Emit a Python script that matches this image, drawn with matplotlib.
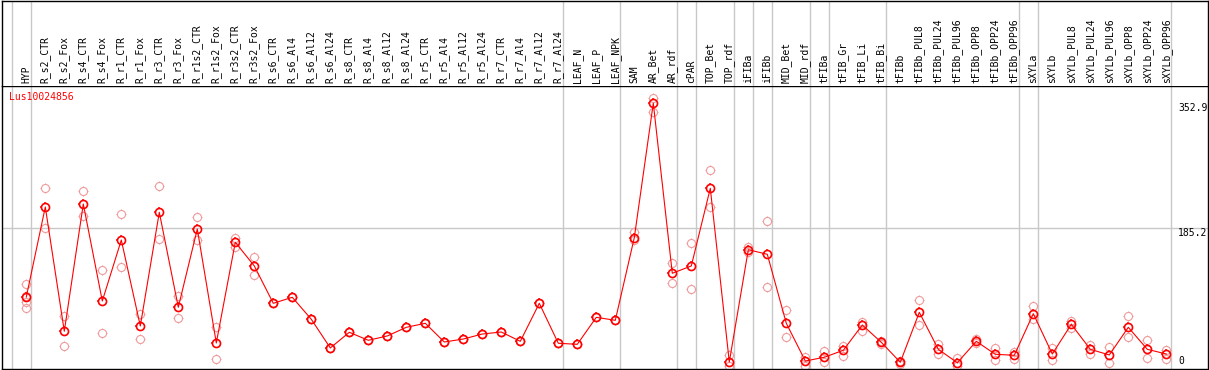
import matplotlib
matplotlib.use('Agg')
import matplotlib.pyplot as plt
from matplotlib.path import Path
import numpy as np

gene_id = "Lus10024856"

categories = [
    "HYP", "R_s2_CTR", "R_s2_Fox", "R_s4_CTR", "R_s4_Fox", "R_r1_CTR", "R_r1_Fox",
    "R_r3_CTR", "R_r3_Fox", "R_r1s2_CTR", "R_r1s2_Fox", "R_r3s2_CTR", "R_r3s2_Fox",
    "R_s6_CTR", "R_s6_Al4", "R_s6_Al12", "R_s6_Al24", "R_s8_CTR", "R_s8_Al4",
    "R_s8_Al12", "R_s8_Al24", "R_r5_CTR", "R_r5_Al4", "R_r5_Al12", "R_r5_Al24",
    "R_r7_CTR", "R_r7_Al4", "R_r7_Al12", "R_r7_Al24", "LEAF_N", "LEAF_P", "LEAF_NPK",
    "SAM", "AR_Bet", "AR_rdf", "cPAR", "TOP_Bet", "TOP_rdf", "iFIBa", "iFIBb",
    "MID_Bet", "MID_rdf", "tFIBa", "tFIB_Gr", "tFIB_Li", "tFIB_Bi", "tFIBb",
    "tFIBb_PUL8", "tFIBb_PUL24", "tFIBb_PUL96", "tFIBb_OPP8", "tFIBb_OPP24",
    "tFIBb_OPP96", "sXYLa", "sXYLb", "sXYLb_PUL8", "sXYLb_PUL24", "sXYLb_PUL96",
    "sXYLb_OPP8", "sXYLb_OPP24", "sXYLb_OPP96",
]

mean_values = [
    93.0, 213.7, 47.0, 217.7, 87.6, 169.4, 54.1, 206.6, 79.2, 184.2, 31.3, 166.4, 134.6,
    84.5, 92.6, 63.1, 24.6, 45.6, 34.9, 40.7, 52.3, 57.7, 32.6, 36.6, 43.3,
    46.0, 33.5, 84.5, 30.9, 29.5, 65.7, 61.7,
    172.5, 352.9, 124.8, 134.6, 238.8, 5.8, 156.4, 150.3, 57.7, 7.1,
    12.1, 21.5, 55.4, 32.2, 5.4, 72.4, 22.8, 4.8, 33.5, 16.1, 14.8,
    70.6, 16.5, 56.3, 22.8, 15.2, 52.3, 22.8, 16.5,
]

rep_a = [
    110.0, 238.8, 67.9, 234.8, 129.2, 203.9, 70.6, 241.5, 94.3, 199.9, 52.3, 172.5, 146.2,
    84.5, 92.6, 63.1, 24.6, 45.6, 34.9, 40.7, 52.3, 57.7, 32.6, 36.6, 43.3,
    46.0, 33.5, 84.5, 30.9, 29.5, 65.7, 61.7,
    180.6, 359.5, 138.2, 165.0, 263.0, 15.2, 159.7, 194.5, 75.1, 12.9,
    20.5, 27.6, 59.0, 33.9, 7.1, 88.5, 30.3, 10.7, 36.6, 24.1, 19.6,
    80.9, 24.1, 60.8, 29.0, 25.5, 67.1, 34.9, 21.5,
]

rep_b = [
    78.6, 185.9, 26.8, 201.6, 44.3, 132.8, 36.2, 170.4, 64.4, 169.0, 9.4, 160.5, 122.1,
    84.5, 92.6, 63.1, 24.6, 45.6, 34.9, 40.7, 52.3, 57.7, 32.6, 36.6, 43.3,
    46.0, 33.5, 84.5, 30.9, 29.5, 65.7, 61.7,
    169.0, 340.8, 111.4, 103.3, 213.7, 0.0, 153.7, 106.0, 38.9, 0.8,
    6.2, 13.8, 47.4, 30.3, 2.7, 55.4, 16.9, 0.0, 30.9, 8.9, 9.4,
    63.1, 8.0, 51.4, 16.9, 4.0, 38.9, 10.7, 9.8,
]

hyp_extra = [94.7, 86.7]

separators = [-1, 0, 28, 31, 34, 35, 37, 38, 39, 41, 42, 45, 52, 53, 60]
y_labels = [352.9, 185.2, 0]

W, H = 1209, 370
fig = plt.figure(figsize=(W / 100, H / 100), dpi=100)
fig.patch.set_facecolor('white')


def fx(px):
    return px / W


def fy(py):
    return 1 - py / H


ax = fig.add_axes([fx(2), fy(369), fx(1208) - fx(2), fy(86) - fy(369)])
hx = fig.add_axes([fx(2), fy(86), fx(1208) - fx(2), fy(0.6) - fy(86)])

x0_px, dx_px = 26.3, 19.0
xlim = ((2 - x0_px) / dx_px, (1208 - x0_px) / dx_px)
y0_px, sy = 366.3, 0.7454
ylim = ((y0_px - 369) / sy, (y0_px - 86) / sy)

for a in (ax, hx):
    a.set_xlim(*xlim)
    a.set_xticks([])
    a.set_yticks([])
    for s in a.spines.values():
        s.set_color('black')
        s.set_linewidth(1.0)
hx.spines['bottom'].set_visible(False)
ax.set_ylim(*ylim)
hx.set_ylim(0, 85.4)

grid_col = '#c8c8c8'
for s in separators:
    ax.axvline(s + 0.23, color=grid_col, lw=1.0, zorder=1)
    hx.axvline(s + 0.23, color=grid_col, lw=1.0, zorder=1)
ax.axhline(185.2, color=grid_col, lw=1.0, zorder=1)

mono = 'DejaVu Sans Mono'
for i, lab in enumerate(categories):
    hx.text(i, 2.6, lab, rotation=90, ha='center', va='bottom',
            fontsize=7, family=mono, color='black')

# tick-only marker (short radial ticks outside the circle)
verts, codes = [], []
for ang in (0, 90, 180, 270):
    a = np.deg2rad(ang)
    verts += [(1.0 * np.cos(a), 1.0 * np.sin(a)), (1.3 * np.cos(a), 1.3 * np.sin(a))]
    codes += [Path.MOVETO, Path.LINETO]
tick_marker = Path(verts, codes)

circ_ms = 5.8      # circle diameter in points
tick_ms = 7.5      # tick extent in points

xs = np.arange(len(categories))
pink = '#f09a9a'


def draw_points(x, y, col, mew, z):
    ax.plot(x, y, linestyle='none', marker='o', ms=circ_ms, mfc='none',
            mec=col, mew=mew, zorder=z)
    ax.plot(x, y, linestyle='none', marker=tick_marker, ms=tick_ms, mfc='none',
            mec=col, mew=mew * 0.9, zorder=z)


draw_points(xs, rep_a, pink, 0.8, 2)
draw_points(xs, rep_b, pink, 0.8, 2)
draw_points([0] * len(hyp_extra), hyp_extra, pink, 0.8, 2)
ax.plot(xs, mean_values, color='#ff0000', lw=0.8, zorder=3)
draw_points(xs, mean_values, '#ff0000', 1.2, 4)

lab_x = (1178 - x0_px) / dx_px
for v in y_labels:
    ax.text(lab_x, v, f"{v:g}", ha='left', va='bottom' if v == 0 else 'top',
            fontsize=7, family=mono, color='black', zorder=5)

ax.text((9.5 - x0_px) / dx_px, (y0_px - 97.5) / sy, gene_id, ha='left',
        va='center', fontsize=7, family=mono, color='#ff0000', zorder=5)

fig.savefig('out.png', dpi=100)
